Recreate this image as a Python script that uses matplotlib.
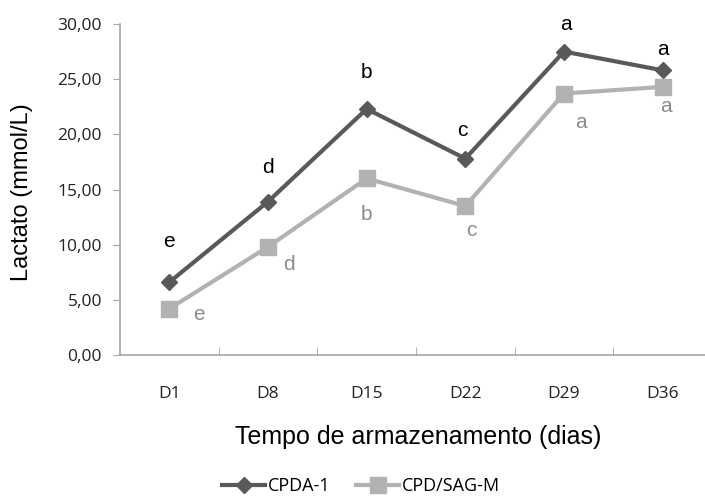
" lactate during storage, CPDA-1 vs CPD/SAG-M "
import matplotlib.pyplot as plt

days = ["D1", "D8", "D15", "D22", "D29", "D36"]
cpda = [6.6, 13.9, 22.3, 17.8, 27.5, 25.8]
sagm = [4.2, 9.8, 16.0, 13.5, 23.7, 24.3]
letters_cpda = ["e", "d", "b", "c", "a", "a"]
letters_sagm = ["e", "d", "b", "c", "a", "a"]

# label offsets in pixels (dx, dy)
off_cpda = [(0, 41), (0, 34), (0, 36), (-3, 28), (2, 27), (0, 21)]
off_sagm = [(30, -6), (21, -18), (0, -36), (6, -24), (17, -29), (3, -20)]

dark = "#595959"
light = "#b2b2b2"
axc = "#a6a6a6"

fig = plt.figure(figsize=(7.05, 5.03), dpi=100)
ax = fig.add_axes([120/705, 148/503, 592/705, 331/503])

x = list(range(len(days)))
ax.plot(x, cpda, color=dark, lw=3, marker="D", ms=8, label="CPDA-1")
ax.plot(x, sagm, color=light, lw=3, marker="s", ms=11, label="CPD/SAG-M")

for i in x:
    ax.annotate(letters_cpda[i], (i, cpda[i]), xytext=off_cpda[i],
                textcoords="offset pixels", ha="center", va="center",
                fontsize=15, color="black", family="Liberation Sans")
    ax.annotate(letters_sagm[i], (i, sagm[i]), xytext=off_sagm[i],
                textcoords="offset pixels", ha="center", va="center",
                fontsize=15, color="#8c8c8c", family="Liberation Sans")

ax.set_xlim(-0.5, len(days) - 0.5)
ax.set_ylim(0, 30)
ax.set_yticks(range(0, 31, 5))
ax.set_yticklabels(["%d,00" % v for v in range(0, 31, 5)])
ax.set_xticks(x)
ax.set_xticklabels(days)
ax.set_xticks([i + 0.5 for i in x[:-1]], minor=True)
ax.tick_params(axis="x", which="major", length=0, pad=22)
ax.tick_params(axis="x", which="minor", direction="in", length=6, color=axc)
ax.tick_params(axis="y", length=5, color=axc, pad=8)
for lab in ax.get_xticklabels() + ax.get_yticklabels():
    lab.set_family("Open Sans")
    lab.set_fontsize(12.5)
    lab.set_color("#222222")

for s in ["top", "right"]:
    ax.spines[s].set_visible(False)
for s in ["left", "bottom"]:
    ax.spines[s].set_color(axc)
    ax.spines[s].set_linewidth(1.2)

ax.set_ylabel("Lactato (mmol/L)", fontsize=17, family="Liberation Sans")
ax.yaxis.set_label_coords(-98 / 592, (355 - 192) / 331)
ax.set_xlabel("Tempo de armazenamento (dias)", fontsize=18,
              family="Liberation Sans")
ax.xaxis.set_label_coords((418 - 120) / 592, -(437 - 355) / 331)
ax.xaxis.label.set_va("center")
ax.yaxis.label.set_va("center")

fig.legend(loc="center", bbox_to_anchor=(361/705, 1 - 486/503), ncol=2,
           frameon=False, handlelength=2.4, columnspacing=1.4,
           handletextpad=0.15, prop={"family": "Open Sans", "size": 13})

fig.savefig("out.png", dpi=100)
